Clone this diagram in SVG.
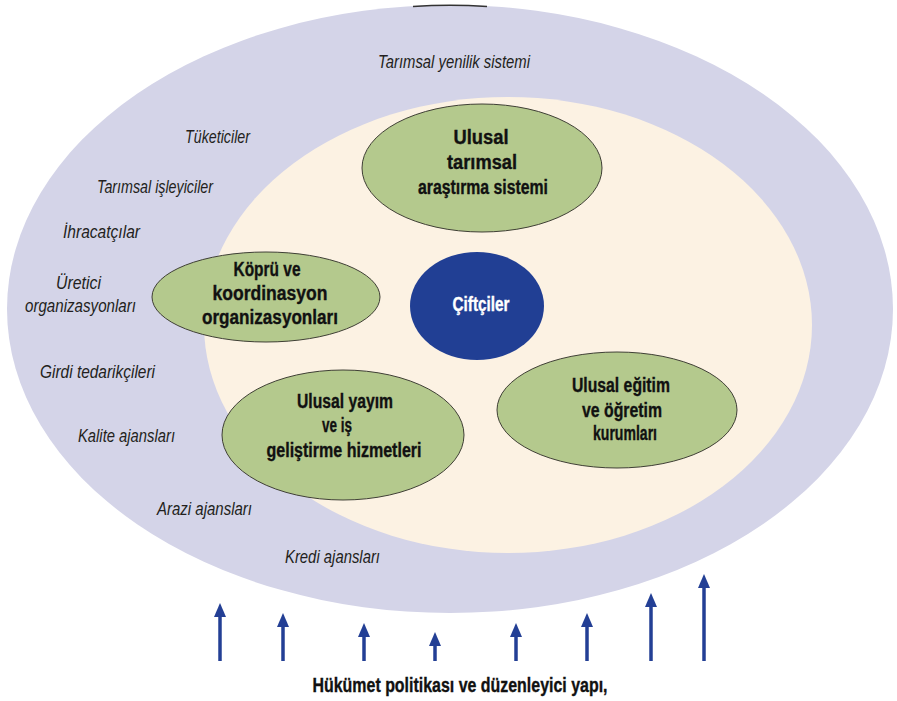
<svg xmlns="http://www.w3.org/2000/svg" width="897" height="701" viewBox="0 0 897 701">
<defs>
<style>
.lbl{font-family:"Liberation Sans",Arial,sans-serif;font-style:italic;font-size:17.5px;fill:#231f20}
.node{fill:#b4c98d;stroke:#3f3f35;stroke-width:1}
.nt{font-family:"Liberation Sans",Arial,sans-serif;font-weight:bold;font-size:19.5px;fill:#111;text-anchor:middle;stroke:#111;stroke-width:0.35}
.shaft{stroke:#233f95;stroke-width:3.5;fill:none}
.head{fill:#233f95}
</style>
</defs>
<rect width="897" height="701" fill="#ffffff"/>
<g id="outer">
<ellipse cx="450" cy="309" rx="443" ry="304" fill="#d4d4e8"/>
<path d="M413,6.5 Q450,4 487,6.5" stroke="#333" stroke-width="1.5" fill="none"/>
<text class="lbl" x="378" y="68" textLength="152" lengthAdjust="spacingAndGlyphs">Tarımsal yenilik sistemi</text>
<text class="lbl" x="185" y="143" textLength="65" lengthAdjust="spacingAndGlyphs">Tüketiciler</text>
<text class="lbl" x="97" y="193" textLength="116" lengthAdjust="spacingAndGlyphs">Tarımsal işleyiciler</text>
<text class="lbl" x="63" y="238" textLength="77" lengthAdjust="spacingAndGlyphs">İhracatçılar</text>
<text class="lbl" x="56" y="289" textLength="45" lengthAdjust="spacingAndGlyphs">Üretici</text>
<text class="lbl" x="25" y="312" textLength="111" lengthAdjust="spacingAndGlyphs">organizasyonları</text>
<text class="lbl" x="40" y="378" textLength="115" lengthAdjust="spacingAndGlyphs">Girdi tedarikçileri</text>
<text class="lbl" x="78" y="442" textLength="97" lengthAdjust="spacingAndGlyphs">Kalite ajansları</text>
<text class="lbl" x="157" y="515" textLength="95" lengthAdjust="spacingAndGlyphs">Arazi ajansları</text>
<text class="lbl" x="285" y="563" textLength="95" lengthAdjust="spacingAndGlyphs">Kredi ajansları</text>
</g>
<g id="inner">
<ellipse cx="508" cy="325" rx="304" ry="228" fill="#fcf2e3"/>
</g>
<g id="node-research">
<ellipse class="node" cx="482" cy="168" rx="120" ry="64"/>
<text class="nt" x="481" y="144" textLength="55" lengthAdjust="spacingAndGlyphs">Ulusal</text>
<text class="nt" x="482" y="169" textLength="70" lengthAdjust="spacingAndGlyphs">tarımsal</text>
<text class="nt" x="483" y="194" textLength="130" lengthAdjust="spacingAndGlyphs">araştırma sistemi</text>
</g>
<g id="node-bridge">
<ellipse class="node" cx="266" cy="297" rx="114" ry="45"/>
<text class="nt" x="267" y="276" textLength="67" lengthAdjust="spacingAndGlyphs">Köprü ve</text>
<text class="nt" x="270" y="300" textLength="115" lengthAdjust="spacingAndGlyphs">koordinasyon</text>
<text class="nt" x="270" y="324" textLength="136" lengthAdjust="spacingAndGlyphs">organizasyonları</text>
</g>
<g id="node-farmers">
<ellipse cx="477" cy="306" rx="67" ry="54" fill="#213f94"/>
<text class="nt" x="481" y="311" textLength="57" lengthAdjust="spacingAndGlyphs" style="fill:#ffffff;stroke:#ffffff">Çiftçiler</text>
</g>
<g id="node-extension">
<ellipse class="node" cx="343" cy="435" rx="121" ry="65"/>
<text class="nt" x="345" y="408" textLength="96" lengthAdjust="spacingAndGlyphs">Ulusal yayım</text>
<text class="nt" x="337" y="432" textLength="30" lengthAdjust="spacingAndGlyphs">ve iş</text>
<text class="nt" x="344" y="457" textLength="155" lengthAdjust="spacingAndGlyphs">geliştirme hizmetleri</text>
</g>
<g id="node-education">
<ellipse class="node" cx="617" cy="410" rx="120" ry="58"/>
<text class="nt" x="621" y="392" textLength="98" lengthAdjust="spacingAndGlyphs">Ulusal eğitim</text>
<text class="nt" x="622" y="417" textLength="80" lengthAdjust="spacingAndGlyphs">ve öğretim</text>
<text class="nt" x="625" y="440" textLength="64" lengthAdjust="spacingAndGlyphs">kurumları</text>
</g>
<g id="connectors">
<line class="shaft" x1="220" y1="661" x2="220" y2="614"/><polygon class="head" points="220,603 214,617 226,617"/>
<line class="shaft" x1="283" y1="661" x2="283" y2="624"/><polygon class="head" points="283,613 277,627 289,627"/>
<line class="shaft" x1="364" y1="661" x2="364" y2="634"/><polygon class="head" points="364,623 358,637 370,637"/>
<line class="shaft" x1="435" y1="661" x2="435" y2="643"/><polygon class="head" points="435,632 429,646 441,646"/>
<line class="shaft" x1="516" y1="661" x2="516" y2="634"/><polygon class="head" points="516,623 510,637 522,637"/>
<line class="shaft" x1="587" y1="661" x2="587" y2="624"/><polygon class="head" points="587,613 581,627 593,627"/>
<line class="shaft" x1="651" y1="661" x2="651" y2="604"/><polygon class="head" points="651,593 645,607 657,607"/>
<line class="shaft" x1="704" y1="661" x2="704" y2="585"/><polygon class="head" points="704,574 698,588 710,588"/>
</g>
<g id="footer">
<text class="nt" x="460" y="692" textLength="295" lengthAdjust="spacingAndGlyphs">Hükümet politikası ve düzenleyici yapı,</text>
</g>
</svg>
